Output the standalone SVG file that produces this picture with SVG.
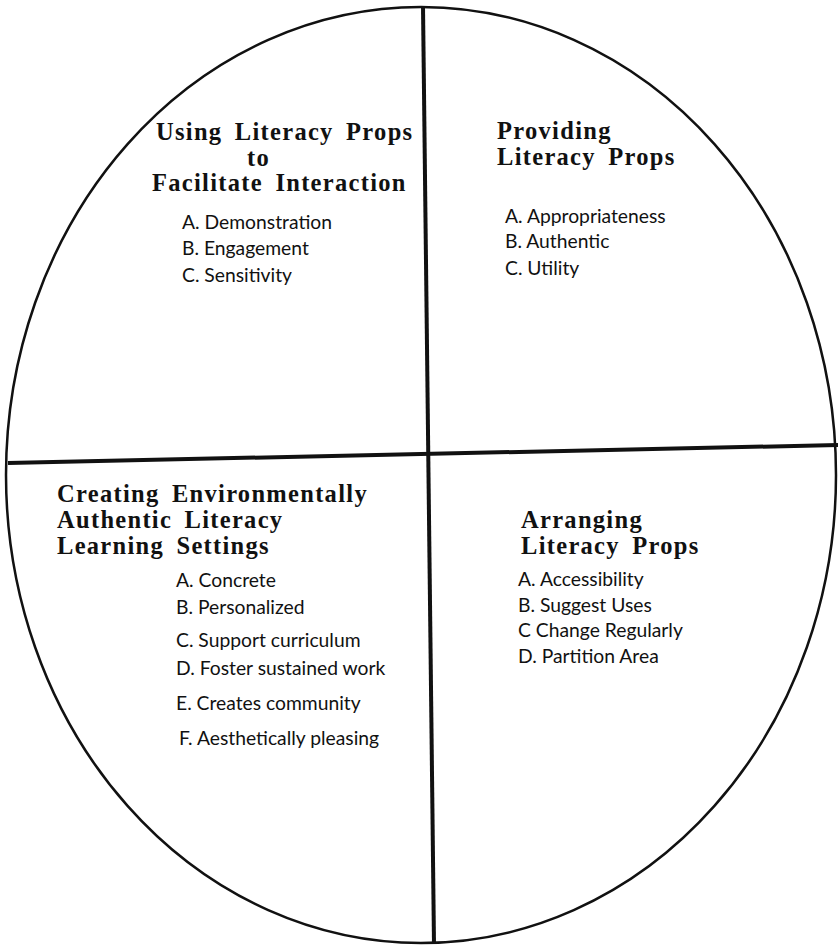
<svg xmlns="http://www.w3.org/2000/svg" width="838" height="948" viewBox="0 0 838 948">
<style>
.t{font-family:"Liberation Serif","Times New Roman",serif;font-weight:bold;font-size:24.5px;fill:#111;letter-spacing:1.3px;word-spacing:5px}
.i{font-family:"Lato","Open Sans",sans-serif;font-size:19.3px;fill:#111}
.ln{stroke:#111;fill:none}
</style>
<rect width="838" height="948" fill="#fff"/>
<g id="connectors">
<ellipse class="ln" cx="421" cy="475" rx="415" ry="468" stroke-width="2.5"/>
<line class="ln" x1="423" y1="6" x2="434" y2="944" stroke-width="4"/>
<line class="ln" x1="8" y1="463" x2="838" y2="445" stroke-width="4"/>
</g>
<g id="q1">
<text class="t" x="156" y="140">Using Literacy Props</text>
<text class="t" x="247" y="166">to</text>
<text class="t" x="152" y="191">Facilitate Interaction</text>
<text class="i" x="182" y="229">A. Demonstration</text>
<text class="i" x="182" y="255">B. Engagement</text>
<text class="i" x="182" y="282">C. Sensitivity</text>
</g>
<g id="q2">
<text class="t" x="497" y="139">Providing</text>
<text class="t" x="497" y="165">Literacy Props</text>
<text class="i" x="505" y="223">A. Appropriateness</text>
<text class="i" x="505" y="248">B. Authentic</text>
<text class="i" x="505" y="275">C. Utility</text>
</g>
<g id="q3">
<text class="t" x="57" y="502" letter-spacing="1.1">Creating Environmentally</text>
<text class="t" x="57" y="528">Authentic Literacy</text>
<text class="t" x="57" y="554">Learning Settings</text>
<text class="i" x="176" y="587">A. Concrete</text>
<text class="i" x="176" y="614">B. Personalized</text>
<text class="i" x="176" y="647">C. Support curriculum</text>
<text class="i" x="176" y="675">D. Foster sustained work</text>
<text class="i" x="176" y="710">E. Creates community</text>
<text class="i" x="179" y="745">F. Aesthetically pleasing</text>
</g>
<g id="q4">
<text class="t" x="521" y="528">Arranging</text>
<text class="t" x="521" y="554">Literacy Props</text>
<text class="i" x="518" y="586">A. Accessibility</text>
<text class="i" x="518" y="612">B. Suggest Uses</text>
<text class="i" x="518" y="637">C Change Regularly</text>
<text class="i" x="518" y="663">D. Partition Area</text>
</g>
</svg>
